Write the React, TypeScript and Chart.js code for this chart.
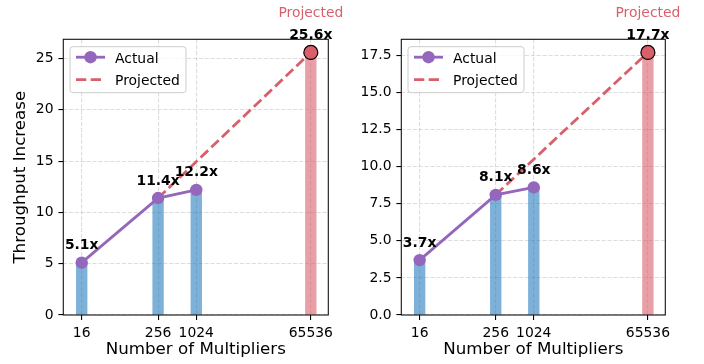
import React, { useEffect, useRef } from "react";
import { Chart, registerables } from "chart.js";

Chart.register(...registerables);

// ---- data ----
const actualMultipliers = [16, 256, 1024];
const projectedMultiplier = 65536;
const xTickValues = [16, 256, 1024, 65536];
const leftActual = [5.1, 11.4, 12.2];
const leftProjected = 25.6;
const rightActual = [3.7, 8.1, 8.6];
const rightProjected = 17.7;
const leftYTicks = [0, 5, 10, 15, 20, 25];
const rightYTicks = [0, 2.5, 5, 7.5, 10, 12.5, 15, 17.5];
const xTitle = "Number of Multipliers";
const yTitle = "Throughput Increase";
const legendLabels = ["Actual", "Projected"];
const projectedNote = "Projected";

// ---- styles ----
const FONT = "DejaVu Sans";
const PURPLE = "#9467bd";
const RED = "#d9606b";
const BLUE_BAR = "rgba(40,125,190,0.6)";
const RED_BAR = "rgba(217,96,107,0.6)";
const GRID = "rgba(170,170,170,0.4)";
const TICK_FS = 13.9;
const TITLE_FS = 16.7;

type PanelProps = {
  actual: number[];
  projected: number;
  yTicks: number[];
  decimals: number;
  showYTitle: boolean;
  yAxisWidth: number;
  padRight: number;
};

function Panel(p: PanelProps) {
  const ref = useRef<HTMLCanvasElement>(null);
  useEffect(() => {
    const canvas = ref.current!;
    const actualPts = actualMultipliers.map((x, i) => ({ x, y: p.actual[i] }));
    const projPt = { x: projectedMultiplier, y: p.projected };
    const startIdx = 1; // projected line starts from 256
    const projLine = [actualPts[startIdx], projPt];
    const barPts = [...actualPts, projPt];

    const overlay = {
      id: "overlay",
      afterDatasetsDraw(chart: any) {
        const ctx: CanvasRenderingContext2D = chart.ctx;
        const ca = chart.chartArea;
        const xs = chart.scales.x;
        const ys = chart.scales.y;
        ctx.save();
        // frame
        ctx.strokeStyle = "#111";
        ctx.lineWidth = 1.1;
        ctx.setLineDash([]);
        ctx.strokeRect(ca.left, ca.top, ca.right - ca.left, ca.bottom - ca.top);

        // value labels
        ctx.fillStyle = "#000";
        ctx.font = `bold ${TICK_FS}px "${FONT}"`;
        ctx.textAlign = "center";
        ctx.textBaseline = "alphabetic";
        [...actualPts, projPt].forEach((pt) => {
          const px = xs.getPixelForValue(pt.x);
          const py = ys.getPixelForValue(pt.y);
          ctx.fillText(`${pt.y.toFixed(1)}x`, px, py - 13.5);
        });
        // projected note
        ctx.fillStyle = RED;
        ctx.font = `${TICK_FS}px "${FONT}"`;
        ctx.fillText(projectedNote, xs.getPixelForValue(projPt.x), ys.getPixelForValue(projPt.y) - 35);

        // legend
        const bx = ca.left + 6.7;
        const by = ca.top + 7.4;
        const bw = 116;
        const bh = 46;
        const r = 3;
        ctx.beginPath();
        ctx.moveTo(bx + r, by);
        ctx.lineTo(bx + bw - r, by);
        ctx.arcTo(bx + bw, by, bx + bw, by + r, r);
        ctx.lineTo(bx + bw, by + bh - r);
        ctx.arcTo(bx + bw, by + bh, bx + bw - r, by + bh, r);
        ctx.lineTo(bx + r, by + bh);
        ctx.arcTo(bx, by + bh, bx, by + bh - r, r);
        ctx.lineTo(bx, by + r);
        ctx.arcTo(bx, by, bx + r, by, r);
        ctx.closePath();
        ctx.fillStyle = "rgba(255,255,255,0.8)";
        ctx.fill();
        ctx.strokeStyle = "#cccccc";
        ctx.lineWidth = 1;
        ctx.stroke();

        const hx0 = bx + 6;
        const hx1 = bx + 35;
        const row1 = by + 10.5;
        const row2 = by + 33;
        ctx.lineWidth = 2.8;
        ctx.strokeStyle = PURPLE;
        ctx.beginPath();
        ctx.moveTo(hx0, row1);
        ctx.lineTo(hx1, row1);
        ctx.stroke();
        ctx.fillStyle = PURPLE;
        ctx.beginPath();
        ctx.arc((hx0 + hx1) / 2, row1, 6.2, 0, Math.PI * 2);
        ctx.fill();
        ctx.strokeStyle = RED;
        ctx.setLineDash([10.3, 4.4]);
        ctx.beginPath();
        ctx.moveTo(hx0, row2);
        ctx.lineTo(hx1, row2);
        ctx.stroke();
        ctx.setLineDash([]);
        ctx.fillStyle = "#000";
        ctx.font = `${TICK_FS}px "${FONT}"`;
        ctx.textAlign = "left";
        ctx.fillText(legendLabels[0], bx + 45, row1 + 5.5);
        ctx.fillText(legendLabels[1], bx + 45, row2 + 5.5);
        ctx.restore();
      },
    };

    const yMax = p.projected * 1.05;
    const chart = new Chart(canvas, {
      type: "line",
      data: {
        datasets: [
          {
            type: "line",
            label: "point",
            data: [projPt],
            showLine: false,
            pointRadius: 7,
            pointHoverRadius: 7,
            pointBackgroundColor: RED,
            pointBorderColor: "#000",
            pointBorderWidth: 1.2,
            order: 0,
          } as any,
          {
            type: "line",
            label: legendLabels[0],
            data: actualPts,
            borderColor: PURPLE,
            borderWidth: 2.8,
            pointRadius: 6.2,
            pointHoverRadius: 6.2,
            pointBackgroundColor: PURPLE,
            pointBorderWidth: 0,
            tension: 0,
            order: 1,
          } as any,
          {
            type: "line",
            label: legendLabels[1],
            data: projLine,
            borderColor: RED,
            borderWidth: 2.8,
            borderDash: [10.3, 4.4],
            pointRadius: 0,
            tension: 0,
            order: 2,
          } as any,
          {
            type: "bar",
            label: "bars",
            data: barPts,
            backgroundColor: [BLUE_BAR, BLUE_BAR, BLUE_BAR, RED_BAR],
            borderWidth: 0,
            barThickness: 10.7,
            grouped: false,
            order: 5,
          } as any,
        ],
      },
      options: {
        animation: false,
        responsive: false,
        devicePixelRatio: 1,
        layout: { padding: { top: 39.3, right: p.padRight, left: 0, bottom: 0 } },
        plugins: { legend: { display: false }, tooltip: { enabled: false } },
        scales: {
          x: {
            type: "logarithmic",
            min: 8.2,
            max: 123600,
            offset: false,
            afterBuildTicks: (s: any) => {
              s.ticks = xTickValues.map((v) => ({ value: v }));
            },
            afterFit: (s: any) => {
              s.height = 49;
            },
            ticks: {
              autoSkip: false,
              maxRotation: 0,
              padding: 4.9,
              color: "#000",
              font: { family: FONT, size: TICK_FS },
              callback: (v: any) => String(v),
            },
            grid: {
              offset: false,
              color: GRID,
              lineWidth: 1.1,
              tickColor: "#000",
              tickLength: 4.9,
              tickWidth: 1.1,
            },
            border: { display: false, dash: [4.1, 1.8] },
            title: {
              display: true,
              text: xTitle,
              color: "#000",
              font: { family: FONT, size: TITLE_FS },
              padding: { top: 0, bottom: 4 },
            },
          },
          y: {
            type: "linear",
            min: 0,
            max: yMax,
            offset: false,
            afterBuildTicks: (s: any) => {
              s.ticks = p.yTicks.map((v) => ({ value: v }));
            },
            afterFit: (s: any) => {
              s.width = p.yAxisWidth;
            },
            ticks: {
              padding: 4.9,
              color: "#000",
              font: { family: FONT, size: TICK_FS },
              callback: (v: any) => Number(v).toFixed(p.decimals),
            },
            grid: {
              offset: false,
              color: GRID,
              lineWidth: 1.1,
              tickColor: "#000",
              tickLength: 4.9,
              tickWidth: 1.1,
            },
            border: { display: false, dash: [4.1, 1.8] },
            title: {
              display: p.showYTitle,
              text: yTitle,
              color: "#000",
              font: { family: FONT, size: TITLE_FS },
              padding: { top: 11, bottom: 0 },
            },
          },
        },
      },
      plugins: [overlay],
    } as any);
    return () => chart.destroy();
  }, []);
  return <canvas ref={ref} width={352} height={364} style={{ display: "block", width: 352, height: 364 }} />;
}

export default function App() {
  useEffect(() => {
    document.body.style.margin = "0";
  }, []);
  return (
    <div style={{ position: "absolute", left: 0, top: 0, width: 704, height: 364, display: "flex", background: "#fff" }}>
      <Panel actual={leftActual} projected={leftProjected} yTicks={leftYTicks} decimals={0} showYTitle={true} yAxisWidth={63.3} padRight={23.7} />
      <Panel actual={rightActual} projected={rightProjected} yTicks={rightYTicks} decimals={1} showYTitle={false} yAxisWidth={49.3} padRight={38.7} />
    </div>
  );
}
